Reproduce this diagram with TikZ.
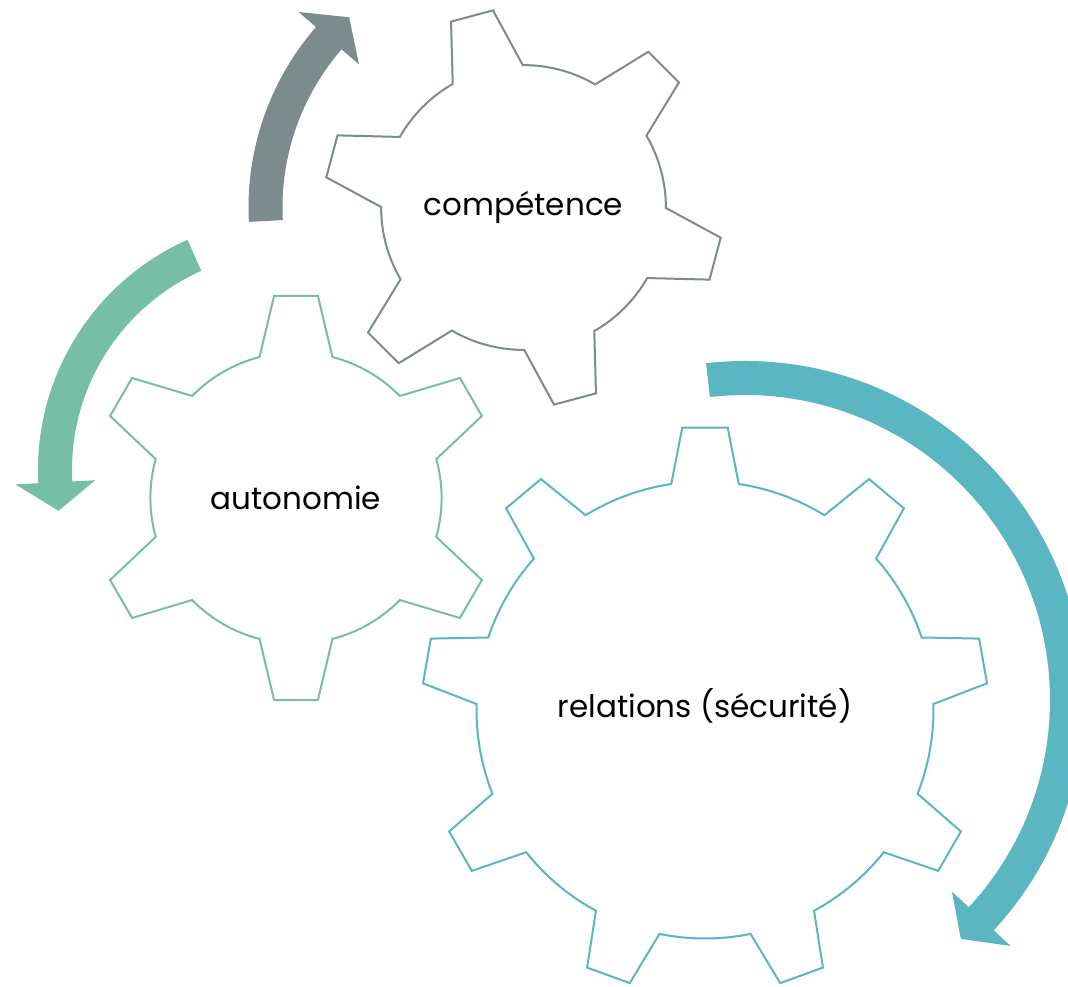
\documentclass[tikz,border=0pt]{standalone}
\usepackage{fontspec}
\setmainfont{Poppins}
\definecolor{cgray}{HTML}{7C8B8C}
\definecolor{cgreen}{HTML}{76BEA6}
\definecolor{cteal}{HTML}{5AB6C1}
% #1 colour, #2 centre, #3 teeth, #4 phase, #5 outer r, #6 outer half angle, #7 root r, #8 root half angle
\newcommand{\drawgear}[8]{%
  \begin{scope}[shift={#2}]
    \pgfmathsetmacro\gstep{360/#3}
    \pgfmathtruncatemacro\glast{#3-1}
    \draw[gearline, draw=#1] ({#4-#8}:{#7})
      \foreach \i in {0,...,\glast}{
        -- ({#4+\i*\gstep-#6}:{#5}) -- ({#4+\i*\gstep+#6}:{#5})
        -- ({#4+\i*\gstep+#8}:{#7})
        arc[start angle={#4+\i*\gstep+#8}, end angle={#4+(\i+1)*\gstep-#8}, radius={#7}]
      } -- cycle;
  \end{scope}}
% #1 colour, #2 centre, #3 radius, #4 start angle, #5 head base angle, #6 tip angle
\newcommand{\circarrow}[6]{%
  \fill[#1, shift={#2}] ({#4}:{#3+17})
    arc[start angle={#4}, end angle={#5}, radius={#3+17}]
    -- ({#5}:{#3+40}) -- ({#6}:{#3}) -- ({#5}:{#3-40}) -- ({#5}:{#3-17})
    arc[start angle={#5}, end angle={#4}, radius={#3-17}] -- cycle;}
\begin{document}
\begin{tikzpicture}[x=1pt, y=1pt,
  gearline/.style={line width=2pt, fill=white, line join=miter},
  lbl/.style={font=\fontsize{31}{37}\selectfont, text=black, inner sep=0pt}]
\clip (0,0) rectangle (1068,986);
% arrows
\circarrow{cgray}{(523.5,778.5)}{258}{183}{139}{132.5}
\circarrow{cgreen}{(290,516)}{235}{114}{183}{190}
\circarrow{cteal}{(745,286)}{322}{96.6}{-42.8}{-47.9}
% gears
\drawgear{cgray}{(523.5,778.5)}{6}{105.05}{199.5}{6.25}{142.4}{14.75}
\drawgear{cgreen}{(296,488)}{6}{90}{203.2}{6.2}{145.6}{14.5}
\drawgear{cteal}{(705,276)}{9}{90}{283.3}{4.6}{228.5}{8.5}
% labels
\node[lbl] (comp) at (523.5,778.5) {compétence};
\node[lbl] (auto) at (296,488) {autonomie};
\node[lbl] (rel) at (705,280) {relations (sécurité)};
\end{tikzpicture}
\end{document}
